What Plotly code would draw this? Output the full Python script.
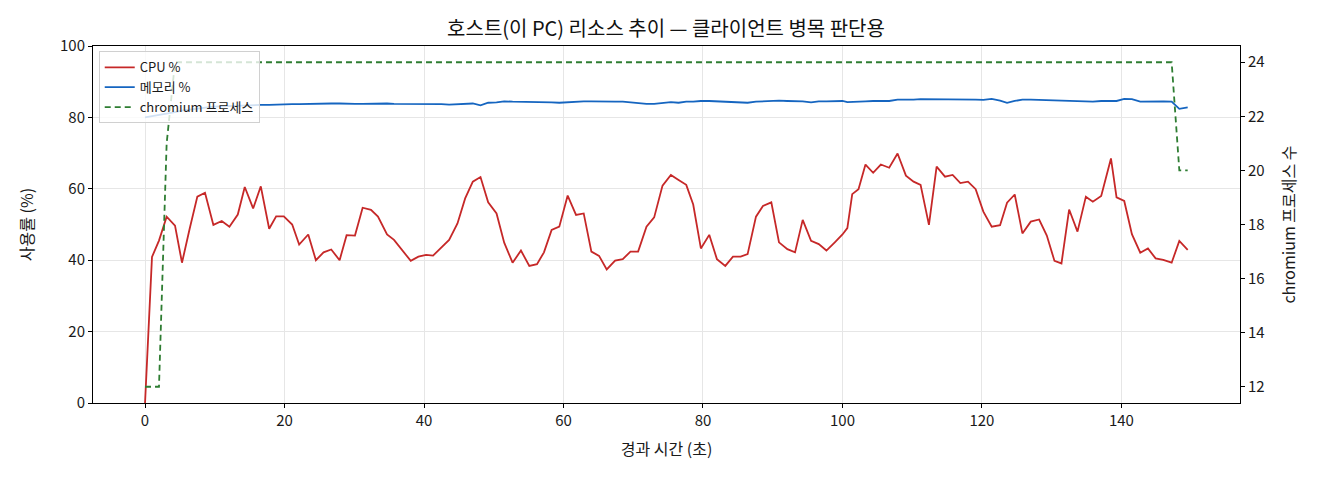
# -*- encoding: utf-8 -*-
import plotly.graph_objects as go

# elapsed seconds of each sample
elapsed = [
    0.0, 1.0, 2.0, 3.1, 4.3, 5.3, 6.4, 7.5, 8.6, 9.8,
    11.0, 12.1, 13.3, 14.3, 15.5, 16.6, 17.8, 18.8, 19.9, 21.1,
    22.1, 23.4, 24.5, 25.6, 26.7, 27.9, 28.9, 30.1, 31.2, 32.4,
    33.4, 34.7, 35.7, 36.9, 38.1, 39.2, 40.3, 41.3, 42.5, 43.6,
    44.8, 45.9, 47.0, 48.1, 49.2, 50.4, 51.5, 52.7, 53.9, 55.1,
    56.2, 57.2, 58.3, 59.4, 60.6, 61.8, 62.9, 64.0, 65.1, 66.2,
    67.4, 68.5, 69.6, 70.7, 71.9, 73.0, 74.2, 75.4, 76.5, 77.6,
    78.6, 79.7, 80.9, 82.0, 83.2, 84.3, 85.4, 86.4, 87.6, 88.6,
    89.8, 90.9, 92.1, 93.2, 94.3, 95.5, 96.6, 97.7, 98.9, 100.0,
    100.7, 101.4, 102.3, 103.3, 104.4, 105.5, 106.7, 107.9, 109.1, 110.2,
    111.2, 112.4, 113.5, 114.7, 115.8, 116.9, 118.0, 119.1, 120.2, 121.4,
    122.6, 123.6, 124.7, 125.8, 127.0, 128.2, 129.3, 130.4, 131.4, 132.5,
    133.7, 134.9, 135.9, 137.1, 138.5, 139.3, 140.4, 141.5, 142.7, 143.8,
    144.9, 146.0, 147.2, 148.3, 149.5,
]

cpu_pct = [
    0.0, 40.9, 45.5, 52.2, 49.7, 39.3, 48.8, 57.8, 58.9, 49.9,
    51.0, 49.4, 52.8, 60.5, 54.5, 60.7, 48.8, 52.3, 52.3, 50.0,
    44.4, 47.2, 40.0, 42.2, 43.0, 40.0, 47.0, 46.9, 54.7, 54.1,
    52.2, 47.2, 45.7, 42.6, 39.8, 41.0, 41.5, 41.3, 43.6, 45.7,
    50.3, 57.3, 62.0, 63.3, 56.2, 53.1, 44.9, 39.3, 42.7, 38.4,
    38.9, 42.2, 48.5, 49.4, 58.1, 52.7, 53.1, 42.4, 41.2, 37.4,
    39.9, 40.3, 42.4, 42.4, 49.4, 52.0, 60.9, 63.9, 62.5, 61.1,
    55.6, 43.3, 47.1, 40.3, 38.4, 41.0, 41.0, 41.7, 52.2, 55.2,
    56.2, 45.0, 43.1, 42.2, 51.3, 45.4, 44.5, 42.7, 45.0, 47.2,
    49.0, 58.5, 59.9, 66.8, 64.5, 66.8, 65.9, 69.9, 63.7, 62.0,
    61.1, 49.9, 66.2, 63.4, 63.9, 61.6, 62.0, 59.9, 53.6, 49.4,
    49.8, 56.1, 58.4, 47.5, 50.8, 51.4, 46.9, 39.8, 39.1, 54.2,
    48.0, 57.8, 56.4, 58.0, 68.5, 57.6, 56.6, 47.3, 42.1, 43.3,
    40.5, 40.1, 39.3, 45.4, 42.9,
]

mem_pct = [
    80.0, 80.3, 80.7, 81.1, 81.5, 81.9, 82.2, 82.5, 82.8, 83.0,
    83.1, 83.2, 83.3, 83.4, 83.4, 83.5, 83.5, 83.6, 83.6, 83.7,
    83.7, 83.8, 83.9, 83.9, 83.9, 83.9, 83.8, 83.8, 83.8, 83.9,
    83.9, 83.9, 83.8, 83.8, 83.7, 83.9, 83.8, 83.8, 83.7, 83.6,
    83.7, 83.7, 83.9, 83.4, 84.1, 84.2, 84.5, 84.4, 84.4, 84.3,
    84.4, 84.3, 84.2, 84.1, 84.3, 84.3, 84.5, 84.5, 84.4, 84.5,
    84.4, 84.4, 84.2, 83.9, 83.8, 83.8, 84.0, 84.3, 84.1, 84.4,
    84.4, 84.6, 84.6, 84.5, 84.4, 84.4, 84.3, 84.1, 84.4, 84.5,
    84.8, 84.7, 84.6, 84.6, 84.5, 84.2, 84.5, 84.5, 84.5, 84.6,
    84.3, 84.4, 84.5, 84.5, 84.6, 84.6, 84.6, 85.0, 84.9, 85.0,
    85.1, 85.1, 85.2, 85.1, 85.0, 85.1, 85.0, 85.0, 84.9, 85.2,
    84.7, 84.1, 84.6, 85.0, 85.0, 84.9, 84.9, 84.9, 84.8, 84.6,
    84.6, 84.4, 84.4, 84.6, 84.7, 84.6, 85.2, 85.1, 84.4, 84.5,
    84.5, 84.5, 84.4, 82.4, 82.8,
]

chromium_procs = [
    12, 12, 12, 21, 24, 24, 24, 24, 24, 24,
    24, 24, 24, 24, 24, 24, 24, 24, 24, 24,
    24, 24, 24, 24, 24, 24, 24, 24, 24, 24,
    24, 24, 24, 24, 24, 24, 24, 24, 24, 24,
    24, 24, 24, 24, 24, 24, 24, 24, 24, 24,
    24, 24, 24, 24, 24, 24, 24, 24, 24, 24,
    24, 24, 24, 24, 24, 24, 24, 24, 24, 24,
    24, 24, 24, 24, 24, 24, 24, 24, 24, 24,
    24, 24, 24, 24, 24, 24, 24, 24, 24, 24,
    24, 24, 24, 24, 24, 24, 24, 24, 24, 24,
    24, 24, 24, 24, 24, 24, 24, 24, 24, 24,
    24, 24, 24, 24, 24, 24, 24, 24, 24, 24,
    24, 24, 24, 24, 24, 24, 24, 24, 24, 24,
    24, 24, 24, 20, 20,
]

x_ticks = [0, 20, 40, 60, 80, 100, 120, 140]
left_ticks = [0, 20, 40, 60, 80, 100]
right_ticks = [12, 14, 16, 18, 20, 22, 24]

FONT = 'Noto Sans CJK KR'
PAGE_OFFSET = 8  # the page body margin shifts the figure by this much


def build():
    traces = [
        go.Scatter(x=elapsed, y=cpu_pct, mode='lines', name='CPU %',
                   line={'color': '#c62828', 'width': 1.8}),
        go.Scatter(x=elapsed, y=mem_pct, mode='lines', name='메모리 %',
                   line={'color': '#1565c0', 'width': 1.8}),
        go.Scatter(x=elapsed, y=chromium_procs, mode='lines',
                   name='chromium 프로세스', yaxis='y2',
                   line={'color': '#2e7d32', 'width': 1.8, 'dash': '6px,4px'}),
    ]
    axis_common = {
        'showline': True, 'linecolor': 'black', 'linewidth': 1,
        'ticks': 'outside', 'ticklen': 4, 'tickcolor': 'black',
        'tickfont': {'family': FONT, 'size': 15, 'color': '#1a1a1a'},
        'zeroline': False,
    }
    title_font = {'family': FONT, 'size': 16, 'color': '#1a1a1a'}
    layout = go.Layout(
        width=1320, height=480,
        margin={'l': 93 - PAGE_OFFSET, 'r': 80 + PAGE_OFFSET,
                't': 46 - PAGE_OFFSET, 'b': 77 + PAGE_OFFSET},
        paper_bgcolor='white', plot_bgcolor='white',
        font={'family': FONT, 'color': '#1a1a1a'},
        title={'text': '호스트(이 PC) 리소스 추이 — 클라이언트 병목 판단용',
               'font': {'family': FONT, 'size': 20, 'color': '#111'},
               'x': (666 - PAGE_OFFSET) / 1320, 'xanchor': 'center',
               'y': 1 - (29 - PAGE_OFFSET) / 480, 'yanchor': 'middle'},
        xaxis={**axis_common,
               'range': [-7.46, 157.0], 'tickvals': x_ticks,
               'showgrid': True, 'gridcolor': '#e6e6e6', 'mirror': True,
               'title': {'text': '경과 시간 (초)', 'standoff': 14,
                         'font': title_font}},
        yaxis={**axis_common,
               'range': [0, 100], 'tickvals': left_ticks,
               'showgrid': True, 'gridcolor': '#e6e6e6',
               'title': {'text': '사용률 (%)', 'standoff': 22,
                         'font': title_font}},
        yaxis2={**axis_common,
                'range': [11.4, 24.6], 'tickvals': right_ticks,
                'overlaying': 'y', 'side': 'right', 'showgrid': False,
                'title': {'text': 'chromium 프로세스 수', 'standoff': 20,
                          'font': title_font}},
        legend={'x': 0.005, 'y': 0.985, 'xanchor': 'left', 'yanchor': 'top',
                'bgcolor': 'rgba(255,255,255,0.8)', 'bordercolor': '#d0d0d0',
                'borderwidth': 1, 'font': {'family': FONT, 'size': 13},
                'tracegroupgap': 0},
        showlegend=True,
    )
    return go.Figure(data=traces, layout=layout)


if __name__ == '__main__':
    fig = build()
    fig.write_html('out.html')
